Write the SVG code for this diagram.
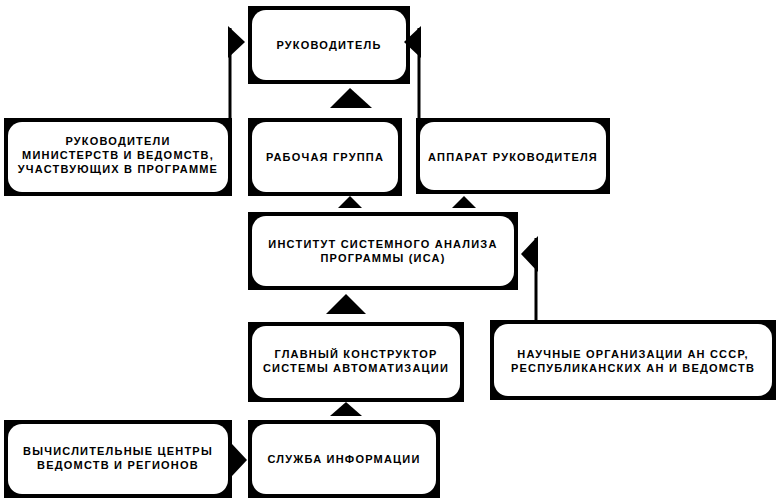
<svg xmlns="http://www.w3.org/2000/svg" width="778" height="502" viewBox="0 0 778 502">
<style>
.o{fill:#000}.i{fill:#fff}
text{font-family:"Liberation Sans",Arial,sans-serif;font-weight:bold;font-size:11px;letter-spacing:1.2px;fill:#000;text-anchor:middle}
.c line{stroke:#000;stroke-width:3}
.c polygon{fill:#000}
</style>
<rect width="778" height="502" fill="#fff"/>
<g id="n1"><rect class="o" x="248" y="6" width="162" height="78"/><rect class="i" x="252" y="10" width="154" height="70" rx="14"/><text x="329" y="49">РУКОВОДИТЕЛЬ</text></g>
<g id="n2"><rect class="o" x="4" y="118" width="228" height="78"/><rect class="i" x="8" y="122" width="220" height="70" rx="14"/><text x="118" y="145">РУКОВОДИТЕЛИ</text><text x="118" y="159">МИНИСТЕРСТВ И ВЕДОМСТВ,</text><text x="118" y="173">УЧАСТВУЮЩИХ В ПРОГРАММЕ</text></g>
<g id="n3"><rect class="o" x="248" y="118" width="154" height="78"/><rect class="i" x="252" y="122" width="146" height="70" rx="14"/><text x="325" y="161">РАБОЧАЯ ГРУППА</text></g>
<g id="n4"><rect class="o" x="416" y="118" width="194" height="76"/><rect class="i" x="420" y="122" width="186" height="68" rx="14"/><text x="513" y="161">АППАРАТ РУКОВОДИТЕЛЯ</text></g>
<g id="n5"><rect class="o" x="248" y="212" width="270" height="78"/><rect class="i" x="252" y="216" width="262" height="70" rx="14"/><text x="383" y="248">ИНСТИТУТ СИСТЕМНОГО АНАЛИЗА</text><text x="383" y="262">ПРОГРАММЫ (ИСА)</text></g>
<g id="n6"><rect class="o" x="248" y="322" width="216" height="80"/><rect class="i" x="252" y="326" width="208" height="72" rx="14"/><text x="356" y="358">ГЛАВНЫЙ КОНСТРУКТОР</text><text x="356" y="372">СИСТЕМЫ АВТОМАТИЗАЦИИ</text></g>
<g id="n7"><rect class="o" x="490" y="320" width="286" height="80"/><rect class="i" x="494" y="324" width="278" height="72" rx="14"/><text x="633" y="358">НАУЧНЫЕ ОРГАНИЗАЦИИ АН СССР,</text><text x="633" y="372">РЕСПУБЛИКАНСКИХ АН И ВЕДОМСТВ</text></g>
<g id="n8"><rect class="o" x="4" y="420" width="228" height="78"/><rect class="i" x="8" y="424" width="220" height="70" rx="14"/><text x="118" y="455">ВЫЧИСЛИТЕЛЬНЫЕ ЦЕНТРЫ</text><text x="118" y="469">ВЕДОМСТВ И РЕГИОНОВ</text></g>
<g id="n9"><rect class="o" x="248" y="420" width="192" height="78"/><rect class="i" x="252" y="424" width="184" height="70" rx="14"/><text x="344" y="463">СЛУЖБА ИНФОРМАЦИИ</text></g>
<g class="c" id="connectors">
<line x1="230" y1="118" x2="230" y2="28"/><polygon points="228,26 245,42 228,58"/>
<line x1="419" y1="118" x2="419" y2="28"/><polygon points="421,26 404,42 421,58"/>
<polygon points="350,88 372,108 330,108"/>
<polygon points="350,196 362,208 338,208"/>
<polygon points="464,196 476,208 452,208"/>
<line x1="536" y1="320" x2="536" y2="238"/><polygon points="538,236 521,254 538,272"/>
<polygon points="346,294 366,314 326,314"/>
<polygon points="346,402 362,416 330,416"/>
<polygon points="232,444 247,460 232,476"/>
</g>
</svg>
